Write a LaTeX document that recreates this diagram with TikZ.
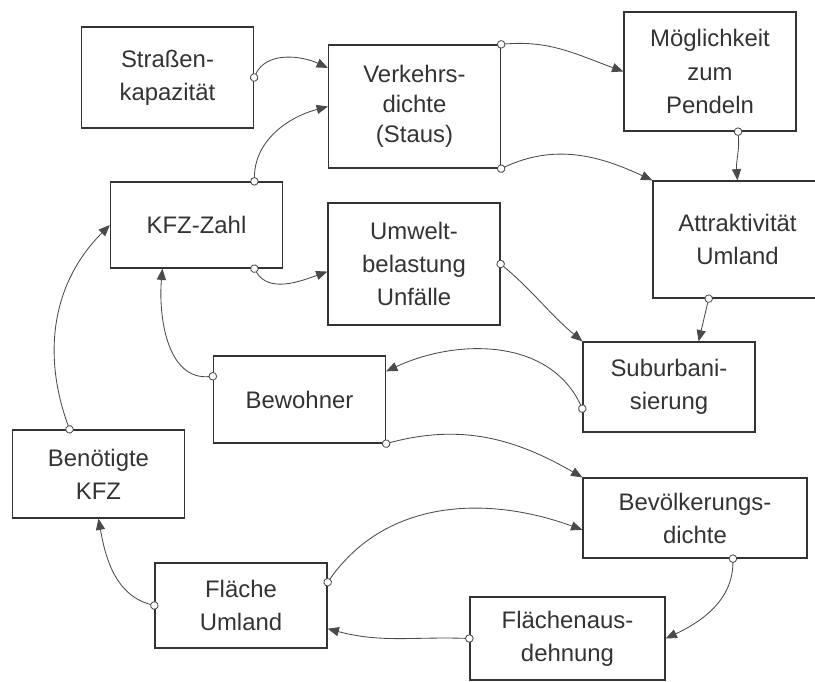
\documentclass[tikz,border=0pt]{standalone}
\usepackage{fontspec}
\setmainfont{Liberation Sans}
\usetikzlibrary{arrows.meta}

\definecolor{boxline}{HTML}{333333}
\definecolor{linkline}{HTML}{4A4A4A}
\definecolor{txt}{HTML}{333333}

\begin{document}
\begin{tikzpicture}[
  x=0.025cm, y=0.025cm,
  font=\fontsize{17pt}{23.5pt}\selectfont, text=txt,
  box/.style={draw=boxline, line width=0.9pt, align=center, inner sep=2pt,
              minimum width=4.3cm},
  link/.style={draw=linkline, line width=0.6pt,
               {Circle[length=6pt, fill=white]}-{Triangle[length=8pt, width=6.5pt]},
               shorten <=-3pt},
]
\useasboundingbox (0,0) rectangle (815,-682);

% Kästen
\node[box, minimum height=2.525cm] (strasse) at (167.5,-77.5) {Straßen-\\kapazität};
\node[box, minimum height=3.075cm, font=\fontsize{17pt}{21.5pt}\selectfont] (verkehr) at (414.5,-106.5) {Verkehrs-\\dichte\\(Staus)};
\node[box, minimum height=2.975cm] (pendeln) at (710,-71.5) {Möglichkeit\\zum\\Pendeln};
\node[box, minimum height=2.15cm] (kfz) at (196.5,-225) {KFZ-Zahl};
\node[box, minimum height=3.05cm] (umwelt) at (414,-264) {Umwelt-\\belastung\\Unfälle};
\node[box, minimum width=4.225cm, minimum height=2.925cm] (attrakt) at (737.5,-239.5) {Attraktivität\\Umland};
\node[box, minimum height=2.25cm] (suburb) at (669,-387) {Suburbani-\\sierung};
\node[box, minimum height=2.175cm] (bewohner) at (299.5,-399.5) {Bewohner};
\node[box, minimum height=2.2cm] (benkfz) at (98.5,-474) {Benötigte\\KFZ};
\node[box, minimum width=5.6cm, minimum height=2cm] (bevdichte) at (695,-518) {Bevölkerungs-\\dichte};
\node[box, minimum height=2.125cm] (flumland) at (241,-605.5) {Fläche\\Umland};
\node[box, minimum width=4.875cm, minimum height=2.075cm] (flausd) at (567.5,-638.5) {Flächenaus-\\dehnung};

% Wirkungen
\draw[link] (strasse.east) to[out=65,in=155] (verkehr.156);
\draw[link] (kfz.37) to[out=90,in=195] (verkehr.west);
\draw[link] (verkehr.north east) to[out=5,in=160] (pendeln.west);
\draw[link] (verkehr.south east) to[out=25,in=155] (attrakt.north west);
\draw[link] (pendeln.-65) to[out=-85,in=95] (attrakt.north);
\draw[link] (kfz.-37) to[out=-60,in=200] (umwelt.185);
\draw[link] (umwelt.east) to[out=-40,in=140] (suburb.north west);
\draw[link] (attrakt.-116) -- (suburb.57);
\draw[link] (suburb.194) to[out=115,in=25] (bewohner.18);
\draw[link] (bewohner.165) to[out=185,in=-95] (kfz.-128);
\draw[link] (benkfz.123) to[out=110,in=225] (kfz.west);
\draw[link] (bewohner.south east) to[out=15,in=150] (bevdichte.north west);
\draw[link] (flumland.15) to[out=55,in=160] (bevdichte.186);
\draw[link] (bevdichte.-47) to[out=-90,in=25] (flausd.east);
\draw[link] (flausd.west) to[out=178,in=-15] (flumland.-15);
\draw[link] (flumland.west) to[out=165,in=-80] (benkfz.south);
\end{tikzpicture}
\end{document}
